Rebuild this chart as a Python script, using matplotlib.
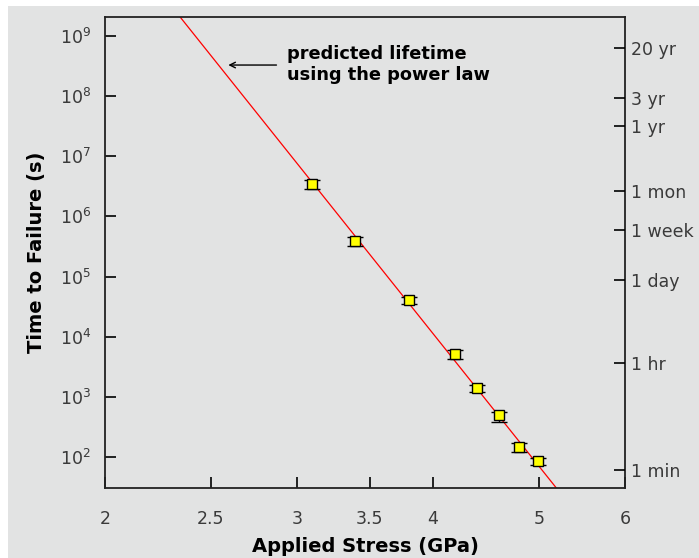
import matplotlib
matplotlib.use("Agg")
import matplotlib.pyplot as plt
from matplotlib.patches import Rectangle

# measured points
stress = [3.10, 3.39, 3.80, 4.19, 4.39, 4.60, 4.80, 4.99]
time_s = [3.44e6, 3.88e5, 4.05e4, 5.1e3, 1.39e3, 494, 145, 84.7]
err_lo = [0.55e6, 0.65e5, 0.55e4, 0.8e3, 0.20e3, 110, 25, 12]
err_hi = [0.60e6, 0.70e5, 0.55e4, 0.8e3, 0.20e3, 60, 25, 12]

# power law fit line (two end points)
fit_stress = [2.344, 5.19]
fit_time = [2.07e9, 30.5]

x_ticks = [2, 2.5, 3, 3.5, 4, 5, 6]
y_ticks = [1e2, 1e3, 1e4, 1e5, 1e6, 1e7, 1e8, 1e9]
right_ticks = [60, 3600, 86400, 604800, 2.6e6, 3.15e7, 9.46e7, 6.3e8]
right_labels = ["1 min", "1 hr", "1 day", "1 week", "1 mon", "1 yr", "3 yr", "20 yr"]

bg = "#e2e3e3"
W, H = 699, 558

fig = plt.figure(figsize=(W / 100, H / 100), dpi=100)
fig.patch.set_facecolor("white")
fig.patches.append(Rectangle((8 / W, -0.01), 1, 1.01 - 6 / H, transform=fig.transFigure,
                             facecolor=bg, edgecolor="none", zorder=-10))

ax = fig.add_axes([105 / W, 1 - 488 / H, 520 / W, 471 / H])
ax.set_facecolor(bg)
ax.set_xscale("log")
ax.set_yscale("log")
ax.set_xlim(2, 6)
ax.set_ylim(30.5, 2.07e9)

ax.plot(fit_stress, fit_time, color="red", lw=0.9, zorder=2)
ax.errorbar(stress, time_s, yerr=[err_lo, err_hi], fmt="s", ms=6.5,
            mfc="yellow", mec="black", mew=1, ecolor="black", elinewidth=1,
            capsize=6, capthick=1.8, zorder=3)

ax.set_xticks(x_ticks)
ax.set_xticklabels([str(v) for v in x_ticks])
ax.xaxis.set_minor_locator(matplotlib.ticker.NullLocator())
ax.set_yticks(y_ticks)
ax.set_yticklabels([r"$10^{%d}$" % i for i in range(2, 10)])
ax.yaxis.set_minor_locator(matplotlib.ticker.NullLocator())

ax.tick_params(axis="x", direction="in", length=8, width=1.2, pad=16,
               labelsize=12.5, labelcolor="#3a3a3a")
ax.tick_params(axis="y", direction="in", length=8, width=1.2, pad=10,
               labelsize=12.5, labelcolor="#3a3a3a")

for s in ax.spines.values():
    s.set_linewidth(1.3)
    s.set_color("#222222")

ax2 = ax.twinx()
ax2.set_yscale("log")
ax2.set_ylim(ax.get_ylim())
ax2.set_yticks(right_ticks)
ax2.set_yticklabels(right_labels)
ax2.yaxis.set_minor_locator(matplotlib.ticker.NullLocator())
ax2.tick_params(axis="y", direction="in", length=8, width=1.2, pad=4,
                labelsize=12.5, labelcolor="#3a3a3a")
for s in ax2.spines.values():
    s.set_visible(False)

ax.set_xlabel("Applied Stress (GPa)", fontsize=14, fontweight="bold", labelpad=6)
ax.set_ylabel("Time to Failure (s)", fontsize=14, fontweight="bold", labelpad=10)

ax.annotate("", xy=(2.58, 3.29e8), xytext=(2.89, 3.29e8),
            arrowprops=dict(arrowstyle="->", color="black", lw=1))
ax.text(2.94, 3.4e8, "predicted lifetime\nusing the power law", fontsize=12.8,
        fontweight="bold", va="center", ha="left", linespacing=1.2)

fig.savefig("out.png", dpi=100, facecolor=fig.get_facecolor())
